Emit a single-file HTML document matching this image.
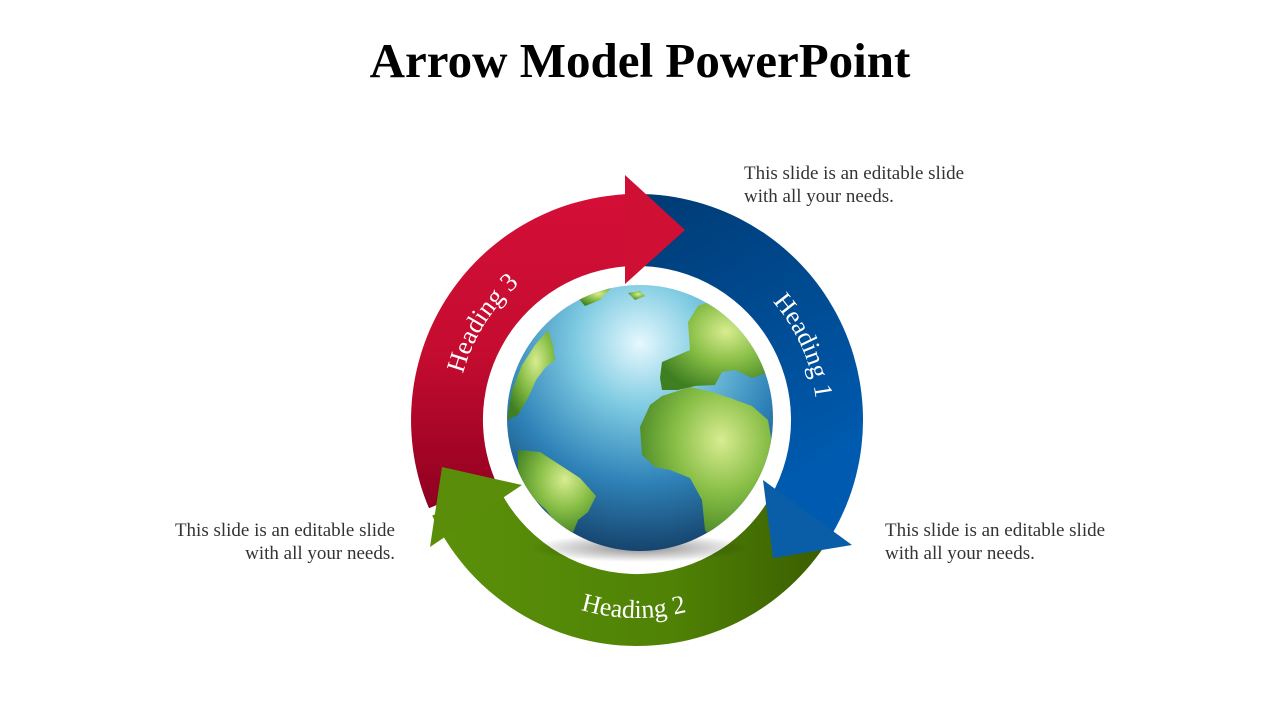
<!DOCTYPE html>
<html><head><meta charset="utf-8"><style>
html,body{margin:0;padding:0;background:#fff;}
body{width:1280px;height:720px;position:relative;overflow:hidden;font-family:"Liberation Serif",serif;}
h1{position:absolute;left:0;width:1280px;top:32px;margin:0;text-align:center;font-size:49px;font-weight:bold;color:#000;}
.t{position:absolute;font-size:19px;line-height:23px;color:#333;}
</style></head><body>
<h1>Arrow Model PowerPoint</h1>
<div class="t" style="left:744px;top:162px;">This slide is an editable slide<br>with all your needs.</div>
<div class="t" style="left:885px;top:519px;">This slide is an editable slide<br>with all your needs.</div>
<div class="t" style="right:885px;top:519px;text-align:right;">This slide is an editable slide<br>with all your needs.</div>
<svg width="1280" height="720" style="position:absolute;left:0;top:0">
<defs>
<linearGradient id="gb" x1="0" y1="0" x2="0.4" y2="1"><stop offset="0" stop-color="#003a72"/><stop offset="1" stop-color="#005bb0"/></linearGradient>
<linearGradient id="gr" x1="0" y1="0" x2="0" y2="1"><stop offset="0" stop-color="#d40f37"/><stop offset="0.5" stop-color="#c50c30"/><stop offset="1" stop-color="#8f0020"/></linearGradient>
<linearGradient id="gg" x1="0" y1="0" x2="1" y2="0"><stop offset="0" stop-color="#5b900a"/><stop offset="0.6" stop-color="#4f8205"/><stop offset="1" stop-color="#3a5c00"/></linearGradient>
<radialGradient id="ocean" cx="0.5" cy="0.22" r="0.8"><stop offset="0" stop-color="#e6f8fd"/><stop offset="0.3" stop-color="#7fcbe2"/><stop offset="0.65" stop-color="#2f83b8"/><stop offset="1" stop-color="#143f68"/></radialGradient>
<radialGradient id="land" cx="0.6" cy="0.35" r="0.7"><stop offset="0" stop-color="#d8ec90"/><stop offset="0.5" stop-color="#86bd45"/><stop offset="1" stop-color="#3f7f22"/></radialGradient>
<radialGradient id="sh" cx="0.5" cy="0.5" r="0.5"><stop offset="0" stop-color="#000" stop-opacity="0.45"/><stop offset="1" stop-color="#000" stop-opacity="0"/></radialGradient>
<clipPath id="gc"><circle cx="640" cy="418" r="133"/></clipPath>
<path id="p3" d="M478,504.5 A180,180 0 0 1 643.3,240.2"/>
<path id="p1" d="M655.8,241 A180,180 0 0 1 782.6,525.8"/>
<path id="p2" d="M463.8,516 A198,198 0 0 0 806.7,522"/>
</defs>
<path d="M621.2,194.5 A226,226 0 0 1 832.7,533 L770.4,497 A154,154 0 0 0 626.3,266.4 Z" fill="url(#gb)"/>
<path d="M832.7,533 A226,226 0 0 1 432.2,515.6 L497.4,485.1 A154,154 0 0 0 770.4,497 Z" fill="url(#gg)"/>
<path d="M429,508.3 A226,226 0 0 1 626,194.3 L627,266.3 A154,154 0 0 0 495.2,480.2 Z" fill="url(#gr)"/>
<polygon points="625,175 685,230 625,284" fill="#cf0f34"/>
<polygon points="442,467 430,547 522,485" fill="#5a8e0a"/>
<polygon points="763,480 852,545 773,558" fill="#0a5ea8"/>
<ellipse cx="640" cy="548" rx="110" ry="14" fill="url(#sh)"/>
<circle cx="640" cy="418" r="133" fill="url(#ocean)"/>
<g clip-path="url(#gc)" fill="url(#land)">
<path d="M640,427 L650,405 L662,396 L690,387 L712,392 L730,398 L752,406 L768,420 L775,460 L768,490 L752,510 L735,528 L712,540 L705,530 L702,500 L690,478 L670,470 L655,467 L642,455 Z"/>
<path d="M660,378 L662,362 L676,356 L690,350 L688,322 L698,306 L715,300 L728,312 L745,330 L760,352 L770,372 L752,378 L735,370 L722,372 L715,385 L695,386 L678,390 L662,390 Z"/>
<path d="M518,450 L540,452 L560,465 L580,478 L596,496 L588,512 L578,520 L572,535 L560,528 L546,510 L530,495 L518,475 Z"/>
<path d="M507,420 L512,390 L522,365 L535,345 L548,330 L553,345 L555,360 L545,368 L536,380 L528,398 L518,415 Z"/>
<path d="M578,298 L595,290 L612,287 L600,300 L585,306 Z"/>
<path d="M628,293 L640,291 L645,296 L635,300 Z"/>
</g>
<g fill="#fff" font-family="Liberation Serif, serif" font-size="26">
<text><textPath href="#p3" startOffset="50%" text-anchor="middle">Heading 3</textPath></text>
<text><textPath href="#p1" startOffset="50%" text-anchor="middle">Heading 1</textPath></text>
<text><textPath href="#p2" startOffset="50%" text-anchor="middle">Heading 2</textPath></text>
</g>
</svg>
</body></html>
